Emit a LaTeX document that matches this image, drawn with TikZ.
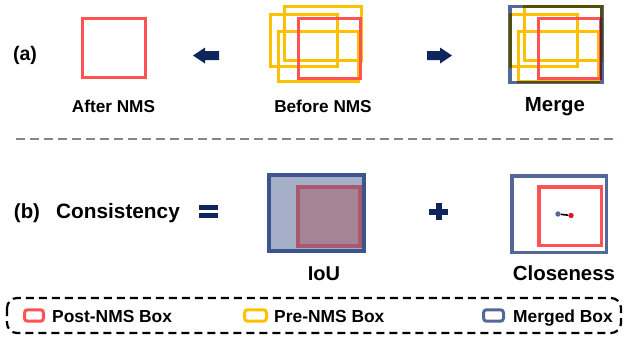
\documentclass[tikz,border=0pt]{standalone}
\usepackage{fontspec}
\setmainfont{Liberation Sans}
\definecolor{pred}{RGB}{255,82,82}
\definecolor{pyel}{RGB}{255,192,0}
\definecolor{pblue}{RGB}{84,104,152}
\definecolor{navy}{RGB}{14,38,92}
\definecolor{ioublue}{RGB}{60,85,142}
\definecolor{ioufill}{RGB}{165,175,200}
\definecolor{iouredline}{RGB}{170,88,110}
\definecolor{iouredfill}{RGB}{166,132,152}
\definecolor{dotred}{RGB}{225,20,35}
\tikzset{
  redbox/.style={draw=pred,line width=3.3pt},
  yelbox/.style={draw=pyel,line width=3.3pt},
  mergebox/.style={draw=pblue,line width=3.5pt},
  lbl/.style={font=\bfseries\fontsize{17.2}{20}\selectfont,anchor=base,inner sep=0pt},
  biglbl/.style={font=\bfseries\fontsize{20.4}{24}\selectfont,anchor=base,inner sep=0pt},
  leglbl/.style={font=\bfseries\fontsize{17.4}{20}\selectfont,anchor=base west,inner sep=0pt},
  legicon/.style={line width=3pt,rounded corners=3pt},
  navyfill/.style={fill=navy},
  dotnode/.style={circle,inner sep=0pt,minimum size=5.4pt},
}
\begin{document}
\begin{tikzpicture}[x=1pt,y=-1pt]
\useasboundingbox (0,0) rectangle (626,341);
% ---------- (a) ----------
\node[biglbl,font=\bfseries\fontsize{19.6}{24}\selectfont] (la) at (25,60) {(a)};
\draw[redbox] (82.6,18.6) rectangle (145.4,77.4);
\node[lbl] (after) at (113.5,112) {After NMS};
% left arrow
\fill[navyfill] (193,55.5) -- (205,47.5) -- (205,51) -- (219,51) -- (219,60) -- (205,60) -- (205,63.5) -- cycle;
% before NMS cluster
\draw[yelbox] (270.6,14.6) rectangle (337.4,66.4);
\draw[yelbox] (284.6,6.6) rectangle (361.4,60.4);
\draw[yelbox] (278.6,31.6) rectangle (358.4,81.4);
\draw[redbox] (298.6,18.6) rectangle (360.4,78.4);
\node[lbl] (before) at (323,112) {Before NMS};
% right arrow
\fill[navyfill] (427,51) -- (440,51) -- (440,47.5) -- (452,55.5) -- (440,63.5) -- (440,60) -- (427,60) -- cycle;
% merge cluster
\begin{scope}[xshift=240pt]
\draw[yelbox] (270.6,14.6) rectangle (337.4,66.4);
\draw[yelbox] (284.6,6.6) rectangle (361.4,60.4);
\draw[yelbox] (278.6,31.6) rectangle (358.4,81.4);
\draw[redbox] (298.6,18.6) rectangle (360.4,78.4);
\end{scope}
\begin{scope}[blend mode=multiply]
\draw[mergebox] (510.2,6.4) rectangle (602.2,82.6);
\end{scope}
\node[biglbl] (merge) at (555,111) {Merge};
% separator
\draw[draw=gray!95,line width=2.2pt,dash pattern=on 9pt off 5pt] (16,139) -- (618,139);
% ---------- (b) ----------
\node[biglbl] (lb) at (27,218) {(b)};
\node[biglbl,font=\bfseries\fontsize{20.8}{24}\selectfont] (cons) at (118,218) {Consistency};
\fill[navyfill] (199,205) rectangle (218,210);
\fill[navyfill] (199,213) rectangle (218,218);
% IoU
\draw[draw=ioublue,fill=ioufill,line width=4pt] (269,175) rectangle (364,251);
\draw[draw=iouredline,fill=iouredfill,line width=4pt] (298,187) rectangle (360,246);
\node[biglbl,font=\bfseries\fontsize{20}{24}\selectfont] (iou) at (324,280) {IoU};
% plus
\fill[navyfill] (429,208.5) rectangle (448,214.5);
\fill[navyfill] (435.5,203) rectangle (441.5,220);
% closeness
\draw[draw=pblue,line width=3.5pt] (511.75,175.75) rectangle (606.25,252.25);
\draw[redbox,line width=3.5pt] (538.75,186.75) rectangle (601.25,245.25);
\node[dotnode,fill=pblue] (bd) at (558,214) {};
\node[dotnode,fill=dotred] (rd) at (571,215.5) {};
\draw[line width=1.6pt,black] (bd) -- (rd);
\node[biglbl] (close) at (564,280) {Closeness};
% ---------- legend ----------
\draw[black,line width=2.2pt,dash pattern=on 8pt off 5pt,rounded corners=10pt] (7,298) rectangle (621,333);
\draw[legicon,draw=pred] (24.5,309.8) rectangle (43.5,321.2);
\node[leglbl] (lpost) at (52,322) {Post-NMS Box};
\draw[legicon,draw=pyel] (244.5,309.8) rectangle (266.5,321.2);
\node[leglbl] (lpre) at (274,322) {Pre-NMS Box};
\draw[legicon,draw=pblue] (483.5,309.8) rectangle (503.5,321.2);
\node[leglbl] (lmerge) at (513,322) {Merged Box};
\end{tikzpicture}
\end{document}
